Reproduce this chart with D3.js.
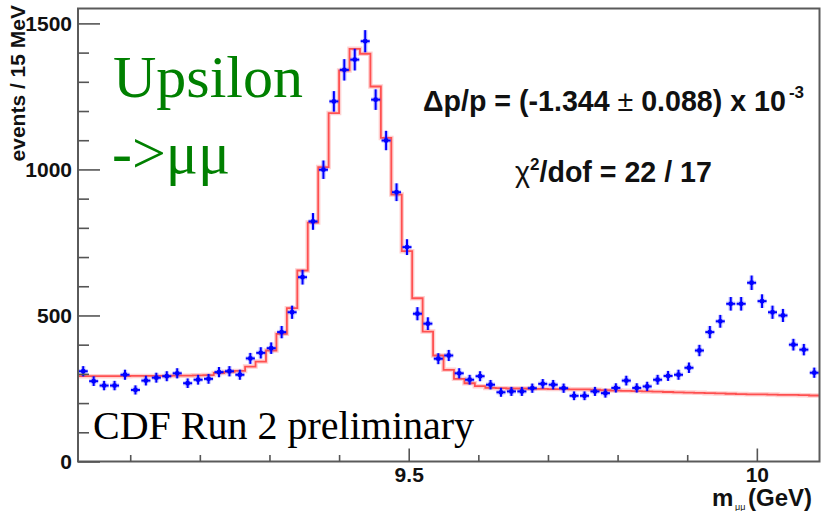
<!DOCTYPE html>
<html>
<head>
<meta charset="utf-8">
<script src="https://cdn.jsdelivr.net/npm/d3@7"></script>
<style>
  html, body { margin: 0; padding: 0; background: #fff; }
  svg { display: block; }
  .sans { font-family: "Liberation Sans", Arial, Helvetica, sans-serif; font-weight: bold; }
  .serif { font-family: "Liberation Serif", "Times New Roman", Times, serif; }
</style>
</head>
<body>
<svg id="chart" width="823" height="511"></svg>
<script>
// Dimuon invariant mass histogram, 15 MeV bins starting at 9.025 GeV
const binStart = 9.025;
const binWidth = 0.015;

// Observed events per bin
const counts = [
  309, 275, 260, 260, 297, 245, 277, 287, 292, 302,
  268, 280, 283, 306, 309, 297, 353, 372, 388, 443,
  511, 631, 822, 999, 1233, 1341, 1376, 1439, 1239, 1099,
  922, 734, 506, 472, 352, 363, 302, 280, 292, 263,
  237, 240, 240, 251, 266, 263, 251, 225, 225, 240,
  234, 252, 277, 252, 257, 280, 293, 297, 321, 380,
  443, 480, 540, 540, 612, 549, 511, 500, 400, 383,
  304
];

// Fitted model per bin
const fitValues = [
  292, 292, 292, 292, 292, 293, 293, 293, 293, 294,
  294, 295, 296, 303, 307, 310, 325, 342, 380, 437,
  525, 654, 818, 1008, 1193, 1339, 1413, 1396, 1284, 1108,
  914, 720, 559, 445, 363, 314, 283, 268, 258, 252,
  251, 250, 250, 249, 249, 248, 248, 247, 247, 246,
  244, 243, 242, 241, 240, 239, 238, 237, 236, 235,
  234, 233, 232, 231, 230, 230, 229, 228, 228, 227,
  226
];

const yMajorTicks = [0, 500, 1000, 1500];
const yMinorTicks = [100, 200, 300, 400, 600, 700, 800, 900, 1100, 1200, 1300, 1400];
const xMajorTicks = [9.5, 10];
const xMajorLabels = ["9.5", "10"];
const xMinorTicks = [9.1, 9.2, 9.3, 9.4, 9.6, 9.7, 9.8, 9.9];

const svg = d3.select("#chart");
const frameL = 78, frameR = 819.5, frameT = 8.5, frameB = 461.5;

const x = d3.scaleLinear().domain([binStart, binStart + counts.length * binWidth]).range([frameL, frameR]);
const y = d3.scaleLinear().domain([0, 1551]).range([frameB, frameT]);

const bins = counts.map((c, i) => ({
  lo: binStart + i * binWidth,
  mid: binStart + (i + 0.5) * binWidth,
  n: c,
  fit: fitValues[i]
}));

// Fit curve drawn as a step histogram
const stepPts = bins.map(b => [b.lo, b.fit]);
stepPts.push([binStart + counts.length * binWidth, fitValues[fitValues.length - 1]]);
const stepLine = d3.line().x(d => x(d[0])).y(d => y(d[1])).curve(d3.curveStepAfter);

const fitG = svg.append("g");
fitG.append("path").attr("d", stepLine(stepPts))
  .attr("fill", "none").attr("stroke", "rgba(255,120,120,0.35)").attr("stroke-width", 4.5);
fitG.append("path").attr("d", stepLine(stepPts))
  .attr("fill", "none").attr("stroke", "#ff5050").attr("stroke-width", 1.8);

// Data points with statistical error bars
const halfX = 0.0065;
const ptG = svg.append("g");
const pts = ptG.selectAll("g.pt").data(bins).join("g").attr("class", "pt");
[["rgba(70,70,255,0.28)", 4.5], ["#0000ff", 2]].forEach(([col, w]) => {
  pts.append("line")
    .attr("x1", d => x(d.mid)).attr("x2", d => x(d.mid))
    .attr("y1", d => y(d.n + Math.sqrt(d.n))).attr("y2", d => y(d.n - Math.sqrt(d.n)))
    .attr("stroke", col).attr("stroke-width", w);
  pts.append("line")
    .attr("x1", d => x(d.mid - halfX)).attr("x2", d => x(d.mid + halfX))
    .attr("y1", d => y(d.n)).attr("y2", d => y(d.n))
    .attr("stroke", col).attr("stroke-width", w);
});
pts.append("circle").attr("cx", d => x(d.mid)).attr("cy", d => y(d.n)).attr("r", 2.4).attr("fill", "#0000ff");

// Frame
svg.append("rect").attr("x", frameL).attr("y", frameT).attr("width", frameR - frameL).attr("height", frameB - frameT)
  .attr("fill", "none").attr("stroke", "#5a5a5a").attr("stroke-width", 2);

// Axes: ticks point into the frame
function styleAxis(g) {
  g.select(".domain").remove();
  g.selectAll(".tick line").attr("stroke", "#555").attr("stroke-width", 1.6);
  g.selectAll("text").attr("class", "sans").attr("font-size", 21).attr("fill", "#111");
}
svg.append("g").attr("transform", `translate(${frameL},0)`)
  .call(d3.axisLeft(y).tickValues(yMinorTicks).tickSize(-11).tickFormat(""))
  .call(styleAxis);
svg.append("g").attr("transform", `translate(${frameL},0)`)
  .call(d3.axisLeft(y).tickValues(yMajorTicks).tickSize(-22).tickPadding(6).tickFormat(d3.format("d")))
  .call(styleAxis);
svg.append("g").attr("transform", `translate(0,${frameB})`)
  .call(d3.axisBottom(x).tickValues(xMinorTicks).tickSize(-6.5).tickFormat(""))
  .call(styleAxis);
svg.append("g").attr("transform", `translate(0,${frameB})`)
  .call(d3.axisBottom(x).tickValues(xMajorTicks).tickSize(-13).tickPadding(6)
    .tickFormat((d, i) => xMajorLabels[i]))
  .call(styleAxis);

// Axis titles
svg.append("text").attr("class", "sans").attr("font-size", 21).attr("fill", "#111")
  .attr("text-anchor", "end").attr("transform", "translate(25,5) rotate(-90)")
  .text("events / 15 MeV");

const xt = svg.append("text").attr("class", "sans").attr("fill", "#111");
xt.append("tspan").attr("x", 712).attr("y", 506).attr("font-size", 24).text("m");
xt.append("tspan").attr("x", 735).attr("y", 510).attr("font-size", 9).attr("font-weight", "normal").text("μμ");
xt.append("tspan").attr("x", 748).attr("y", 506).attr("font-size", 24).text("(GeV)");

// Fit results
const t1 = svg.append("text").attr("class", "sans").attr("x", 423).attr("y", 111).attr("font-size", 28.6).attr("fill", "#111");
t1.append("tspan").text("Δp/p = (-1.344  ");
t1.append("tspan").attr("font-weight", "normal").text("±");
t1.append("tspan").text(" 0.088) x 10");
t1.append("tspan").attr("font-size", 17).attr("dy", -13).attr("dx", 3).text("-3");

const t2 = svg.append("text").attr("class", "sans").attr("x", 515).attr("y", 182).attr("font-size", 28.6).attr("fill", "#111");
t2.append("tspan").attr("font-weight", "normal").text("χ");
t2.append("tspan").attr("font-size", 17).attr("dy", -12).text("2");
t2.append("tspan").attr("dy", 12).text("/dof = 22 / 17");

// Annotations
svg.append("text").attr("class", "serif").attr("x", 113).attr("y", 97).attr("font-size", 60).attr("fill", "#008000").text("Upsilon");
svg.append("text").attr("class", "serif").attr("x", 112).attr("y", 173).attr("font-size", 60).attr("fill", "#008000").text("->μμ");
svg.append("text").attr("class", "serif").attr("x", 93).attr("y", 439).attr("font-size", 40).attr("fill", "#000").text("CDF Run 2 preliminary");
</script>
</body>
</html>
